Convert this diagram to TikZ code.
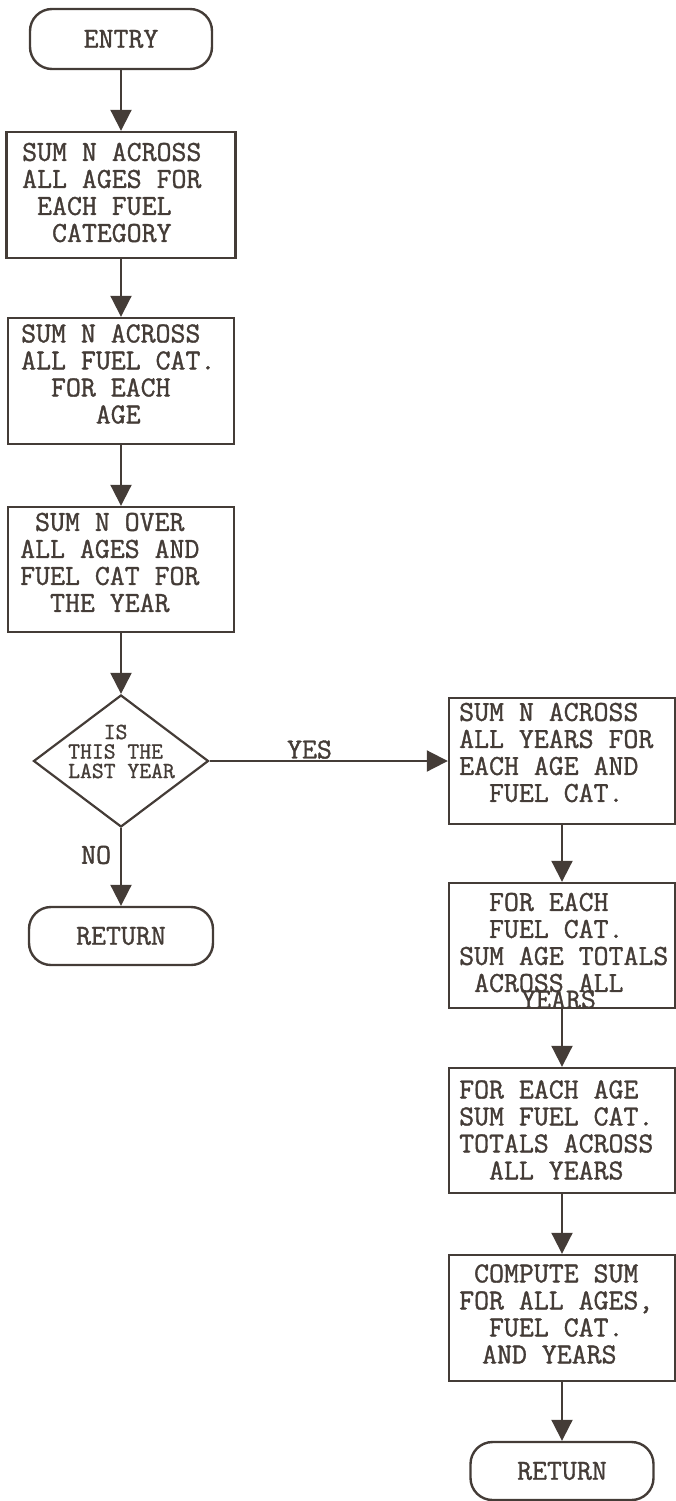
\documentclass[tikz,border=0pt]{standalone}
\usepackage{fontspec}
\setmonofont{Latin Modern Mono}[FakeBold=1.2]
\usetikzlibrary{arrows.meta,shapes.geometric}
\definecolor{ink}{RGB}{68,60,55}
\begin{document}
\begin{tikzpicture}[x=1pt,y=-1pt,
  every node/.style={text=ink},
  boxfont/.style={font=\fontsize{29}{27}\selectfont\ttfamily},
  smallfont/.style={font=\fontsize{23}{19.5}\selectfont\ttfamily},
  procbox/.style={draw=ink,line width=2.4pt,rectangle,inner sep=0pt},
  termbox/.style={draw=ink,line width=2.4pt,rectangle,rounded corners=22pt,inner sep=0pt,boxfont},
  decbox/.style={draw=ink,line width=2.2pt,diamond,inner sep=0pt},
  txt/.style={boxfont,align=left,inner sep=0pt,anchor=west},
  flow/.style={draw=ink,line width=2pt,-{Triangle[width=21pt,length=21pt]}},
  lbl/.style={boxfont,inner sep=0pt},
]
\useasboundingbox (0,0) rectangle (676,1501);

% left column
\node[termbox,minimum width=182pt,minimum height=60pt] (entry) at (121,39) {ENTRY};
\node[procbox,minimum width=229pt,minimum height=126pt] (b1) at (121,195) {};
\node[txt] (t1) at (22,192.5) {SUM N ACROSS\\ALL AGES FOR\\\phantom{X}EACH FUEL\\\phantom{XX}CATEGORY};
\node[procbox,minimum width=226pt,minimum height=126pt] (b2) at (121,381) {};
\node[txt] (t2) at (21,374) {SUM N ACROSS\\ALL FUEL CAT.\\\phantom{XX}FOR EACH\\\phantom{XXXXX}AGE};
\node[procbox,minimum width=226pt,minimum height=125pt] (b3) at (121,569.5) {};
\node[txt] (t3) at (20,562.5) {\phantom{X}SUM N OVER\\ALL AGES AND\\FUEL CAT FOR\\\phantom{XX}THE YEAR};
\node[decbox,minimum width=175pt,minimum height=132pt] (dec) at (121,761) {};
\node[txt,smallfont] (tdec) at (68,751.5) {\phantom{XXX}IS\\THIS THE\\LAST YEAR};
\node[termbox,minimum width=184pt,minimum height=58pt] (ret1) at (121,936) {RETURN};

% right column
\node[procbox,minimum width=226pt,minimum height=126pt] (bA) at (562,761) {};
\node[txt] (tA) at (459,752.5) {SUM N ACROSS\\ALL YEARS FOR\\EACH AGE AND\\\phantom{XX}FUEL CAT.};
\node[procbox,minimum width=226pt,minimum height=125pt] (bB) at (562,945.5) {};
\node[txt] (tB) at (459,942.5) {\phantom{XX}FOR EACH\\\phantom{XX}FUEL CAT.\\SUM AGE TOTALS\\\phantom{X}ACROSS ALL};
\node[txt] (tB5) at (521,999.5) {YEARS};
\node[procbox,minimum width=226pt,minimum height=125pt] (bC) at (562,1130.5) {};
\node[txt] (tC) at (459,1130) {FOR EACH AGE\\SUM FUEL CAT.\\TOTALS ACROSS\\\phantom{XX}ALL YEARS};
\node[procbox,minimum width=226pt,minimum height=126pt] (bD) at (562,1318) {};
\node[txt] (tD) at (459,1314) {\phantom{X}COMPUTE SUM\\FOR ALL AGES,\\\phantom{XX}FUEL CAT.\\\phantom{X}\hspace*{8pt}AND YEARS};
\node[termbox,minimum width=183pt,minimum height=58pt] (ret2) at (562,1471) {RETURN};

% connectors
\draw[flow] (entry) -- (b1);
\draw[flow] (b1) -- (b2);
\draw[flow] (b2) -- (b3);
\draw[flow] (b3) -- (dec);
\draw[flow] (dec) -- node[lbl,anchor=east,xshift=-9pt,yshift=12pt] (no) {NO} (ret1);
\draw[flow] (dec) -- (bA);
\node[lbl,anchor=south] (yes) at (309.5,759) {YES};
\draw[flow] (bA) -- (bB);
\draw[flow] (bB) -- (bC);
\draw[flow] (bC) -- (bD);
\draw[flow] (bD) -- (ret2);
\end{tikzpicture}
\end{document}
